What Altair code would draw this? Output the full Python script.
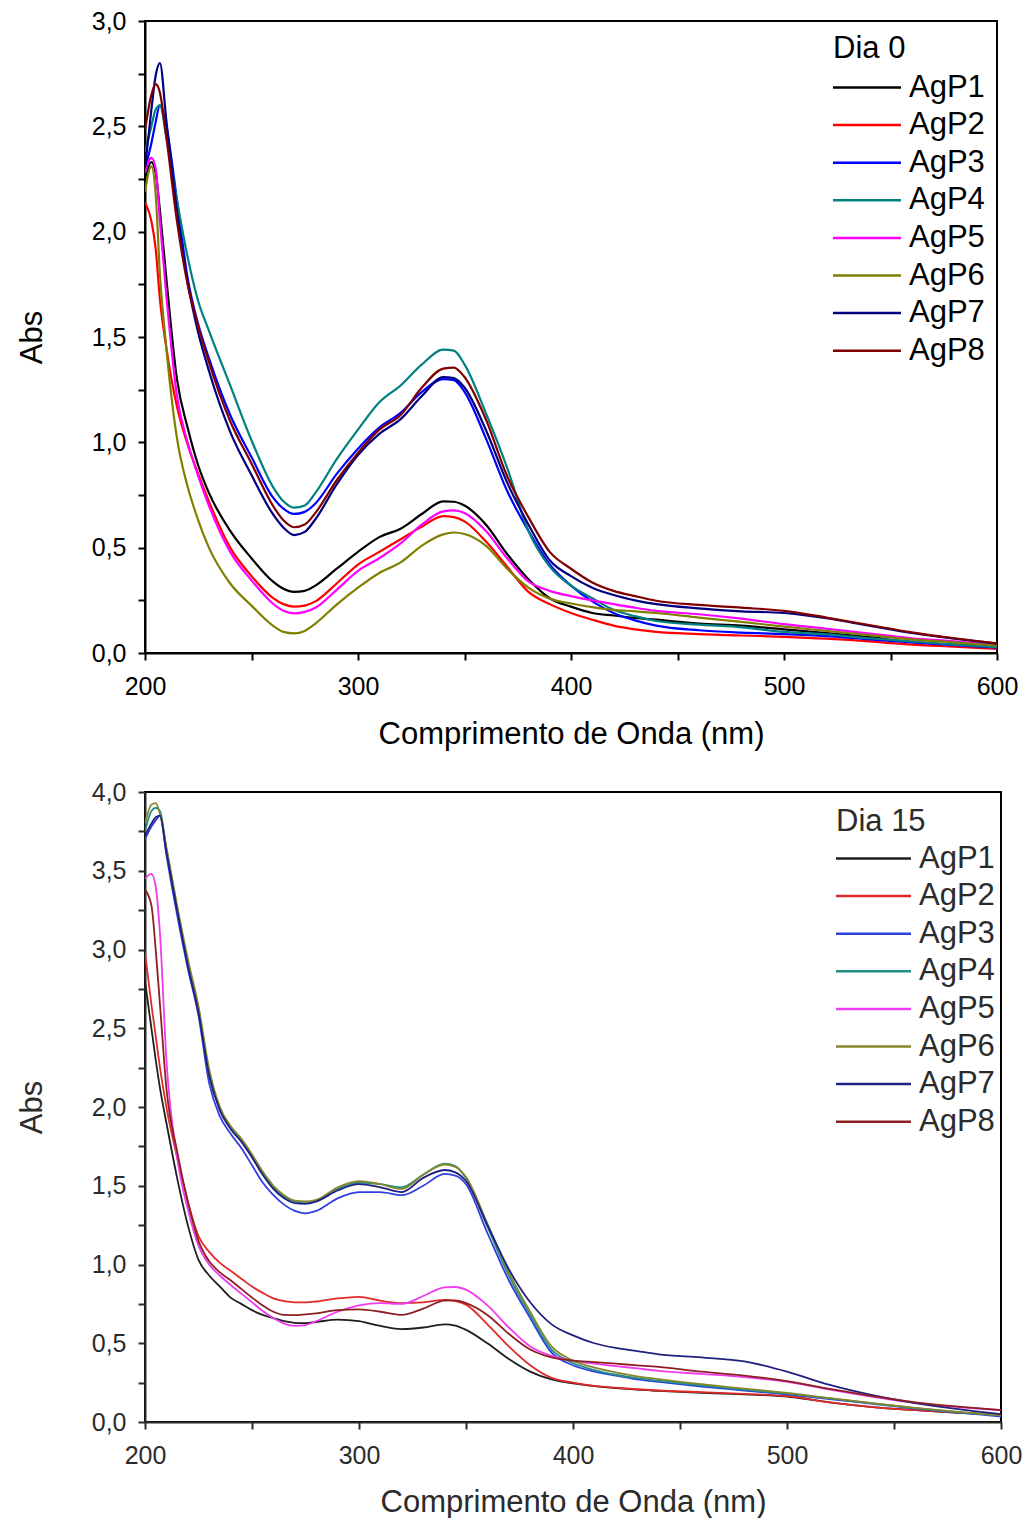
import altair as alt
import pandas as pd

SERIES = ["AgP1", "AgP2", "AgP3", "AgP4", "AgP5", "AgP6", "AgP7", "AgP8"]
COLORS_TOP = ["#000000", "#ff0000", "#0000ff", "#008080", "#ff00ff", "#808000", "#000080", "#800000"]
COLORS_BOT = ["#1e1e1e", "#e02a2a", "#2f3fe0", "#1f8f86", "#ee3cee", "#86862e", "#202080", "#8c1f22"]

# ---------------- Dia 0 ----------------
wl_top = [200, 203, 205, 207, 210, 215, 220, 225, 230, 240, 250, 260, 265, 270, 275, 280, 290, 300,
          310, 320, 330, 340, 345, 350, 360, 370, 380, 390, 400, 410, 420, 430, 440, 460, 480, 500,
          520, 540, 560, 580, 600]
top_agp1 = [2.25, 2.33, 2.28, 2.10, 1.78, 1.30, 1.07, 0.89, 0.76, 0.58, 0.45, 0.34, 0.305, 0.29, 0.295,
            0.32, 0.40, 0.48, 0.55, 0.59, 0.66, 0.72, 0.718, 0.70, 0.61, 0.47, 0.35, 0.26, 0.22, 0.19,
            0.178, 0.167, 0.158, 0.14, 0.13, 0.112, 0.095, 0.075, 0.052, 0.04, 0.03]
top_agp2 = [2.14, 2.05, 1.92, 1.68, 1.45, 1.17, 0.99, 0.85, 0.72, 0.50, 0.365, 0.262, 0.232, 0.22, 0.225,
            0.245, 0.33, 0.42, 0.48, 0.54, 0.60, 0.65, 0.645, 0.625, 0.53, 0.41, 0.29, 0.232, 0.19, 0.158,
            0.13, 0.112, 0.10, 0.09, 0.083, 0.077, 0.068, 0.055, 0.04, 0.03, 0.02]
top_agp3 = [2.30, 2.42, 2.52, 2.60, 2.50, 2.15, 1.78, 1.56, 1.40, 1.13, 0.93, 0.74, 0.685, 0.66, 0.67,
            0.71, 0.85, 0.97, 1.07, 1.14, 1.24, 1.30, 1.295, 1.24, 1.02, 0.77, 0.58, 0.42, 0.32, 0.245,
            0.19, 0.155, 0.13, 0.108, 0.097, 0.09, 0.08, 0.065, 0.05, 0.037, 0.025]
top_agp4 = [2.38, 2.50, 2.58, 2.60, 2.45, 2.15, 1.88, 1.67, 1.53, 1.27, 1.01, 0.79, 0.72, 0.69, 0.70,
            0.76, 0.92, 1.06, 1.19, 1.27, 1.37, 1.44, 1.435, 1.37, 1.14, 0.88, 0.58, 0.41, 0.32, 0.26,
            0.205, 0.175, 0.152, 0.135, 0.122, 0.10, 0.088, 0.07, 0.055, 0.04, 0.028]
top_agp5 = [2.28, 2.35, 2.30, 2.05, 1.70, 1.22, 1.00, 0.84, 0.70, 0.48, 0.345, 0.235, 0.20, 0.188, 0.195,
            0.215, 0.30, 0.39, 0.45, 0.52, 0.61, 0.672, 0.677, 0.665, 0.58, 0.45, 0.34, 0.295, 0.27, 0.25,
            0.232, 0.215, 0.20, 0.184, 0.163, 0.137, 0.115, 0.092, 0.07, 0.055, 0.038]
top_agp6 = [2.19, 2.31, 2.18, 1.80, 1.45, 1.02, 0.79, 0.63, 0.50, 0.33, 0.225, 0.13, 0.10, 0.093, 0.105,
            0.14, 0.23, 0.31, 0.38, 0.43, 0.51, 0.563, 0.572, 0.565, 0.51, 0.40, 0.31, 0.258, 0.235, 0.218,
            0.205, 0.198, 0.19, 0.168, 0.148, 0.125, 0.105, 0.085, 0.065, 0.05, 0.035]
top_agp7 = [2.30, 2.58, 2.74, 2.80, 2.53, 2.10, 1.76, 1.52, 1.34, 1.05, 0.845, 0.66, 0.595, 0.56, 0.575,
            0.635, 0.80, 0.94, 1.04, 1.11, 1.22, 1.31, 1.305, 1.26, 1.06, 0.81, 0.61, 0.44, 0.365, 0.31,
            0.275, 0.25, 0.232, 0.212, 0.198, 0.19, 0.165, 0.13, 0.095, 0.068, 0.044]
top_agp8 = [2.48, 2.65, 2.70, 2.66, 2.45, 2.05, 1.75, 1.55, 1.38, 1.10, 0.90, 0.70, 0.63, 0.597, 0.61,
            0.665, 0.82, 0.95, 1.06, 1.13, 1.26, 1.35, 1.355, 1.31, 1.11, 0.84, 0.645, 0.48, 0.40, 0.335,
            0.295, 0.27, 0.248, 0.228, 0.215, 0.20, 0.168, 0.133, 0.098, 0.07, 0.046]

# ---------------- Dia 15 ----------------
wl_bot = [200, 203, 205, 207, 210, 215, 220, 225, 230, 235, 240, 245, 250, 255, 260, 265, 270, 275, 280,
          290, 300, 310, 320, 330, 340, 345, 350, 360, 370, 380, 390, 400, 410, 420, 430, 440, 460, 480,
          500, 520, 540, 560, 580, 600]
bot_agp1 = [2.80, 2.50, 2.30, 2.12, 1.90, 1.55, 1.25, 1.03, 0.93, 0.86, 0.79, 0.75, 0.71, 0.68, 0.66,
            0.64, 0.63, 0.628, 0.635, 0.65, 0.64, 0.61, 0.59, 0.60, 0.62, 0.612, 0.585, 0.50, 0.40, 0.32,
            0.27, 0.245, 0.228, 0.215, 0.205, 0.198, 0.185, 0.175, 0.162, 0.125, 0.095, 0.075, 0.058, 0.045]
bot_agp2 = [2.98, 2.65, 2.45, 2.25, 2.00, 1.68, 1.40, 1.18, 1.08, 1.01, 0.96, 0.91, 0.86, 0.82, 0.785,
            0.767, 0.76, 0.76, 0.765, 0.785, 0.795, 0.77, 0.755, 0.76, 0.775, 0.768, 0.745, 0.62, 0.48, 0.36,
            0.28, 0.25, 0.23, 0.218, 0.208, 0.20, 0.19, 0.178, 0.165, 0.125, 0.095, 0.075, 0.06, 0.045]
bot_agp3 = [3.70, 3.78, 3.82, 3.85, 3.60, 3.22, 2.88, 2.58, 2.15, 1.94, 1.83, 1.74, 1.63, 1.52, 1.44,
            1.38, 1.34, 1.325, 1.34, 1.42, 1.46, 1.46, 1.44, 1.50, 1.575, 1.565, 1.51, 1.20, 0.90, 0.66,
            0.44, 0.36, 0.32, 0.295, 0.27, 0.255, 0.225, 0.20, 0.175, 0.145, 0.115, 0.085, 0.06, 0.035]
bot_agp4 = [3.75, 3.88, 3.90, 3.88, 3.64, 3.26, 2.92, 2.62, 2.20, 1.98, 1.87, 1.79, 1.69, 1.58, 1.49,
            1.43, 1.40, 1.39, 1.40, 1.48, 1.52, 1.51, 1.49, 1.57, 1.64, 1.625, 1.55, 1.24, 0.93, 0.68,
            0.46, 0.375, 0.33, 0.30, 0.278, 0.262, 0.232, 0.205, 0.18, 0.15, 0.118, 0.088, 0.062, 0.04]
bot_agp5 = [3.45, 3.48, 3.40, 3.10, 2.30, 1.68, 1.35, 1.12, 1.00, 0.93, 0.87, 0.815, 0.76, 0.705, 0.66,
            0.625, 0.61, 0.615, 0.64, 0.70, 0.74, 0.755, 0.75, 0.80, 0.855, 0.857, 0.84, 0.74, 0.60, 0.48,
            0.42, 0.39, 0.37, 0.355, 0.34, 0.325, 0.305, 0.285, 0.255, 0.205, 0.16, 0.12, 0.095, 0.075]
bot_agp6 = [3.80, 3.92, 3.93, 3.86, 3.65, 3.28, 2.94, 2.64, 2.24, 2.00, 1.88, 1.80, 1.70, 1.59, 1.50,
            1.44, 1.405, 1.40, 1.41, 1.49, 1.53, 1.51, 1.48, 1.57, 1.635, 1.62, 1.555, 1.26, 0.95, 0.70,
            0.48, 0.39, 0.345, 0.315, 0.29, 0.272, 0.24, 0.212, 0.185, 0.152, 0.12, 0.09, 0.064, 0.042]
bot_agp7 = [3.72, 3.80, 3.84, 3.85, 3.62, 3.25, 2.90, 2.60, 2.20, 1.98, 1.86, 1.78, 1.68, 1.57, 1.48,
            1.42, 1.39, 1.385, 1.40, 1.47, 1.51, 1.49, 1.46, 1.55, 1.60, 1.585, 1.53, 1.25, 0.97, 0.76,
            0.62, 0.55, 0.50, 0.47, 0.45, 0.43, 0.41, 0.385, 0.32, 0.235, 0.17, 0.12, 0.082, 0.05]
bot_agp8 = [3.38, 3.28, 3.00, 2.65, 2.12, 1.72, 1.40, 1.15, 1.02, 0.95, 0.90, 0.845, 0.79, 0.74, 0.70,
            0.68, 0.678, 0.683, 0.69, 0.71, 0.715, 0.70, 0.68, 0.72, 0.77, 0.772, 0.755, 0.68, 0.56, 0.46,
            0.41, 0.39, 0.38, 0.37, 0.36, 0.35, 0.32, 0.295, 0.26, 0.21, 0.165, 0.125, 0.098, 0.076]

x_ticks = [200, 250, 300, 350, 400, 450, 500, 550, 600]
y_ticks_top = [i * 0.25 for i in range(13)]
y_ticks_bot = [i * 0.25 for i in range(17)]


def long_df(wl, arrays):
    rows = []
    for name, vals in zip(SERIES, arrays):
        for w, v in zip(wl, vals):
            rows.append({"wl": w, "abs": v, "amostra": name})
    return pd.DataFrame(rows)


df_top = long_df(wl_top, [top_agp1, top_agp2, top_agp3, top_agp4, top_agp5, top_agp6, top_agp7, top_agp8])
df_bot = long_df(wl_bot, [bot_agp1, bot_agp2, bot_agp3, bot_agp4, bot_agp5, bot_agp6, bot_agp7, bot_agp8])

FONT = "Liberation Sans"


def panel(df, ymax, yticks, legend_title, width, height, text_color, colors, lx, ly, stroke_w,
          symbol_path, label_offset, legend_title_pad, x_title_pad):
    x_axis = alt.Axis(
        values=x_ticks, title="Comprimento de Onda (nm)",
        labelExpr="datum.value % 100 == 0 ? datum.value : ''",
        labelFlush=False, labelOverlap=False, grid=False,
        tickSize=7, tickWidth=2, tickColor=text_color, domainColor=text_color, domainWidth=2,
        labelFont=FONT, labelFontSize=25, labelColor=text_color, labelPadding=14,
        titleFont=FONT, titleFontSize=31, titleFontWeight="normal", titleColor=text_color,
        titlePadding=x_title_pad,
    )
    y_axis = alt.Axis(
        values=yticks, title="Abs",
        labelExpr="datum.value % 0.5 == 0 ? replace(format(datum.value, '.1f'), '.', ',') : ''",
        labelFlush=False, labelOverlap=False, grid=False,
        tickSize=7, tickWidth=2, tickColor=text_color, domainColor=text_color, domainWidth=2,
        labelFont=FONT, labelFontSize=25, labelColor=text_color, labelPadding=12,
        titleFont=FONT, titleFontSize=31, titleFontWeight="normal", titleColor=text_color,
        titlePadding=43,
    )
    legend = alt.Legend(
        title=legend_title, orient="none", legendX=lx, legendY=ly, padding=0,
        titleFont=FONT, titleFontSize=31, titleFontWeight="normal", titleColor=text_color,
        titlePadding=legend_title_pad, labelFont=FONT, labelFontSize=31, labelColor=text_color,
        symbolType=symbol_path, symbolSize=289, symbolStrokeWidth=2.5, labelOffset=label_offset,
        rowPadding=5.6, fillColor="transparent", strokeColor="transparent", labelLimit=300,
    )
    return alt.Chart(df).mark_line(interpolate="monotone", strokeWidth=stroke_w, clip=True).encode(
        x=alt.X("wl:Q", scale=alt.Scale(domain=[200, 600], nice=False, zero=False), axis=x_axis),
        y=alt.Y("abs:Q", scale=alt.Scale(domain=[0, ymax], nice=False, zero=True), axis=y_axis),
        color=alt.Color("amostra:N", scale=alt.Scale(domain=SERIES, range=colors), legend=legend),
    ).properties(width=width, height=height)


top = panel(df_top, 3.0, y_ticks_top, "Dia 0", 852, 632, "#000000", COLORS_TOP, 688, 13, 2.2,
            "M-1.824,0L6.176,0", 45, 7, 20)
bot = panel(df_bot, 4.0, y_ticks_bot, "Dia 15", 856, 630, "#2b2b2b", COLORS_BOT, 691, 15, 1.8,
            "M-1.824,0L7.0,0", 52, 5, 19)

chart = alt.concat(top, bot, columns=1, spacing=29).resolve_scale(
    color="independent"
).properties(
    padding={"top": 0, "left": 7, "right": 0, "bottom": 0}
).configure_view(stroke="#000000", strokeWidth=2)

chart.save("out.html", embed_options={"renderer": "svg", "actions": False})
